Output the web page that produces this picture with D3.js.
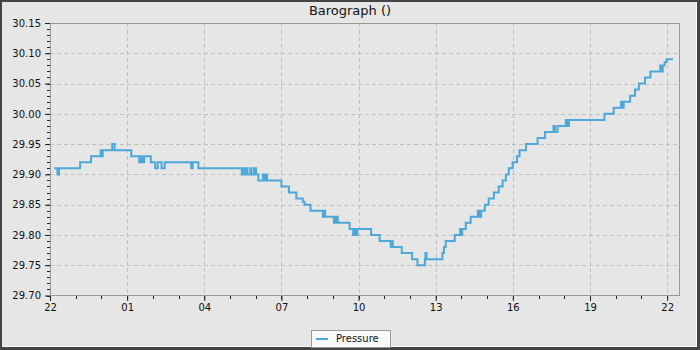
<!DOCTYPE html>
<html>
<head>
<meta charset="utf-8">
<script src="https://cdn.jsdelivr.net/npm/d3@7"></script>
<style>
  body { margin: 0; background: #444; }
  svg { display: block; font-family: "DejaVu Sans", sans-serif; }
</style>
</head>
<body>
<svg id="chart" width="700" height="350"></svg>
<script>
// hours since 22:00 and pressure readings (inHg)
var hours = [0.16, 0.29, 0.35, 1.17, 1.60, 1.97, 2.01, 2.05, 2.42, 2.51,
  3.16, 3.47, 3.55, 3.60, 3.66, 3.92, 4.09, 4.19, 4.34, 4.46,
  5.49, 5.55, 5.77, 7.46, 7.54, 7.58, 7.64, 7.68, 7.79, 7.83,
  7.93, 8.01, 8.10, 8.28, 8.34, 8.38, 8.44, 9.00, 9.29, 9.58,
  9.83, 9.90, 10.13, 10.61, 10.66, 10.70, 11.04, 11.08, 11.12, 11.16,
  11.19, 11.65, 11.79, 11.84, 11.88, 11.95, 12.49, 12.82, 13.25, 13.29,
  13.33, 13.68, 14.08, 14.29, 14.58, 14.60, 14.64, 15.26, 15.32, 15.39,
  15.74, 15.95, 15.99, 16.03, 16.17, 16.36, 16.64, 16.69, 16.77, 16.91,
  17.06, 17.26, 17.45, 17.60, 17.73, 17.84, 17.99, 18.16, 18.26, 18.51,
  18.96, 19.25, 19.58, 19.64, 19.74, 20.06, 20.12, 20.18, 21.56, 21.92,
  22.21, 22.27, 22.31, 22.56, 22.75, 22.90, 23.14, 23.35, 23.73, 23.79,
  23.83, 23.90, 23.98, 24.23];
var pressure = [29.91, 29.90, 29.91, 29.92, 29.93, 29.94, 29.93, 29.94, 29.95, 29.94,
  29.93, 29.92, 29.93, 29.92, 29.93, 29.92, 29.91, 29.92, 29.91, 29.92,
  29.91, 29.92, 29.91, 29.90, 29.91, 29.90, 29.91, 29.90, 29.91, 29.90,
  29.91, 29.90, 29.89, 29.90, 29.89, 29.90, 29.89, 29.88, 29.87, 29.86,
  29.855, 29.85, 29.84, 29.83, 29.84, 29.83, 29.82, 29.83, 29.82, 29.83,
  29.82, 29.81, 29.80, 29.81, 29.80, 29.81, 29.80, 29.79, 29.78, 29.79,
  29.78, 29.77, 29.76, 29.75, 29.76, 29.77, 29.76, 29.77, 29.78, 29.79,
  29.80, 29.81, 29.80, 29.81, 29.82, 29.83, 29.84, 29.83, 29.84, 29.85,
  29.86, 29.87, 29.88, 29.89, 29.90, 29.91, 29.92, 29.93, 29.94, 29.95,
  29.96, 29.97, 29.98, 29.97, 29.98, 29.99, 29.98, 29.99, 30.00, 30.01,
  30.02, 30.01, 30.02, 30.03, 30.04, 30.05, 30.06, 30.07, 30.08, 30.07,
  30.08, 30.085, 30.09, 30.09];

var xTickHours = [0, 3, 6, 9, 12, 15, 18, 21, 24];
var xTickLabels = ["22", "01", "04", "07", "10", "13", "16", "19", "22"];
var yTicks = [29.70, 29.75, 29.80, 29.85, 29.90, 29.95, 30.00, 30.05, 30.10, 30.15];

var svg = d3.select('#chart');
var W = 700, H = 350;
var plotL = 50, plotR = 680, plotT = 23, plotB = 295.5;

// frame: dark edge, white bevel, grey panel
svg.append('rect').attr('width', W).attr('height', H).attr('fill', '#454545');
svg.append('rect').attr('x', 2).attr('y', 2).attr('width', 695).attr('height', 345).attr('fill', '#ffffff');
svg.append('rect').attr('x', 2).attr('y', 2).attr('width', 694).attr('height', 344).attr('fill', '#e6e6e6');

var x = d3.scaleLinear().domain([0, 24.5]).range([plotL, plotR]);
var y = d3.scaleLinear().domain([29.70, 30.15]).range([plotB, plotT]);

// grid
svg.append('g').selectAll('line').data(xTickHours.slice(1))
  .enter().append('line')
  .attr('x1', function(d) { return Math.round(x(d)) + 0.5; })
  .attr('x2', function(d) { return Math.round(x(d)) + 0.5; })
  .attr('y1', plotT).attr('y2', plotB)
  .attr('stroke', '#c0c0c0').attr('stroke-dasharray', '4,3');
svg.append('g').selectAll('line').data(yTicks.slice(1, -1))
  .enter().append('line')
  .attr('y1', function(d) { return Math.round(y(d)) + 0.5; })
  .attr('y2', function(d) { return Math.round(y(d)) + 0.5; })
  .attr('x1', plotL).attr('x2', plotR)
  .attr('stroke', '#c0c0c0').attr('stroke-dasharray', '4,3');

// plot frame
svg.append('rect').attr('x', plotL + 0.5).attr('y', plotT + 0.5)
  .attr('width', plotR - plotL - 1).attr('height', plotB - plotT - 0.5)
  .attr('fill', 'none').attr('stroke', '#999');

// minor ticks
var minorX = d3.range(0, 25, 1);
svg.append('g').selectAll('line').data(minorX)
  .enter().append('line')
  .attr('x1', function(d) { return Math.round(x(d)) + 0.5; })
  .attr('x2', function(d) { return Math.round(x(d)) + 0.5; })
  .attr('y1', 296).attr('y2', 299)
  .attr('stroke', '#222');
var minorY = d3.range(0, 46).map(function(i) { return 29.70 + i * 0.01; });
svg.append('g').selectAll('line').data(minorY)
  .enter().append('line')
  .attr('y1', function(d) { return Math.round(y(d)) + 0.5; })
  .attr('y2', function(d) { return Math.round(y(d)) + 0.5; })
  .attr('x1', 47).attr('x2', 50)
  .attr('stroke', '#222');

// axes
var xAxis = d3.axisBottom(x).tickValues(xTickHours)
  .tickFormat(function(d, i) { return xTickLabels[i]; })
  .tickSize(5).tickSizeOuter(0).tickPadding(3);
var gx = svg.append('g').attr('transform', 'translate(0,' + 296 + ')').call(xAxis);
gx.select('.domain').remove();
gx.selectAll('line').attr('stroke', '#222');
gx.selectAll('text').attr('font-size', 10).attr('fill', '#111').attr('font-family', '"DejaVu Sans"');

var yAxis = d3.axisLeft(y).tickValues(yTicks).tickFormat(d3.format('.2f'))
  .tickSize(5).tickSizeOuter(0).tickPadding(4);
var gy = svg.append('g').attr('transform', 'translate(' + 50 + ',0)').call(yAxis);
gy.select('.domain').remove();
gy.selectAll('line').attr('stroke', '#222');
gy.selectAll('text').attr('font-size', 10).attr('fill', '#111').attr('font-family', '"DejaVu Sans"');

// pressure trace
var line = d3.line()
  .x(function(d) { return x(d[0]); })
  .y(function(d) { return y(d[1]); })
  .curve(d3.curveStepAfter);
svg.append('path')
  .datum(d3.zip(hours, pressure))
  .attr('d', line)
  .attr('fill', 'none')
  .attr('stroke', '#4ba8d8')
  .attr('stroke-width', 2);

// title
svg.append('text').attr('x', 350).attr('y', 15)
  .attr('text-anchor', 'middle').attr('font-size', 13).attr('fill', '#111')
  .text('Barograph ()');

// legend
var lg = svg.append('g');
lg.append('rect').attr('x', 311.5).attr('y', 330.5).attr('width', 79).attr('height', 17)
  .attr('fill', '#f8f8f8').attr('stroke', '#999');
lg.append('line').attr('x1', 316).attr('x2', 328).attr('y1', 339).attr('y2', 339)
  .attr('stroke', '#4ba8d8').attr('stroke-width', 2);
lg.append('text').attr('x', 336).attr('y', 342).attr('font-size', 10).attr('fill', '#111')
  .text('Pressure');
</script>
</body>
</html>
